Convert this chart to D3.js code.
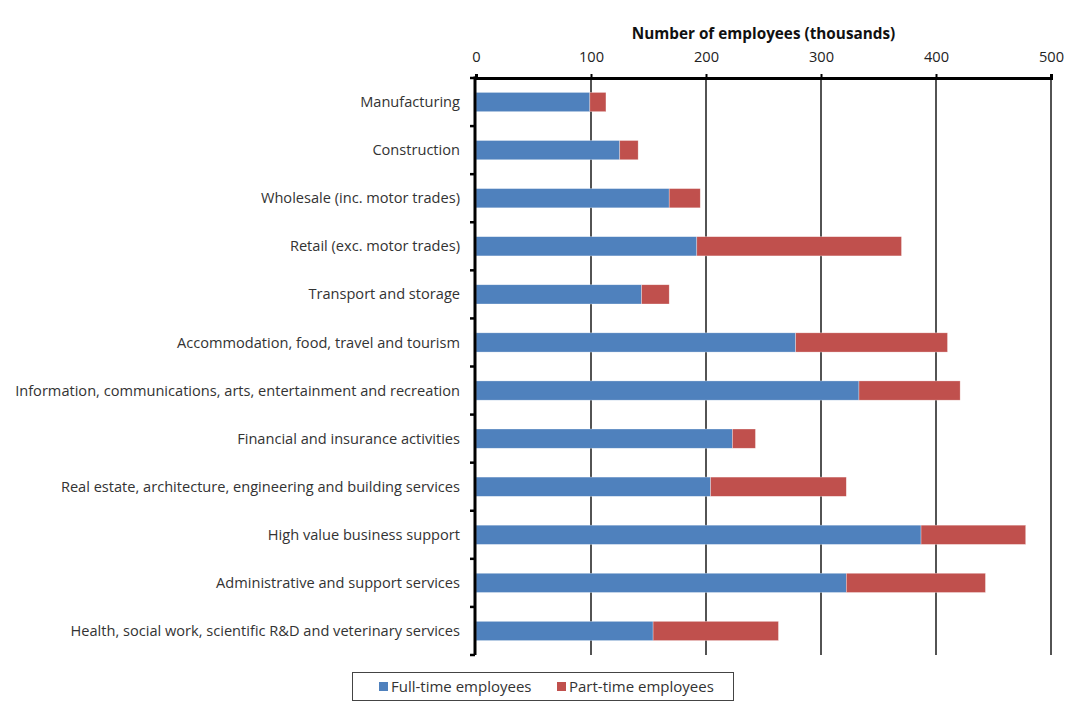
<!DOCTYPE html>
<html>
<head>
<meta charset="utf-8">
<script src="https://cdn.jsdelivr.net/npm/d3@7"></script>
<style>
  body { margin: 0; background: #fff; }
  svg { display: block; }
  text { font-family: "Open Sans", "Noto Sans", sans-serif; }
</style>
</head>
<body>
<svg id="chart" width="1072" height="708"></svg>
<script>
const categories = [
  "Manufacturing",
  "Construction",
  "Wholesale (inc. motor trades)",
  "Retail (exc. motor trades)",
  "Transport and storage",
  "Accommodation, food, travel and tourism",
  "Information, communications, arts, entertainment and recreation",
  "Financial and insurance activities",
  "Real estate, architecture, engineering and building services",
  "High value business support",
  "Administrative and support services",
  "Health, social work, scientific R&D and veterinary services"
];
const fullTime = [99, 125, 168, 192, 144, 278, 333, 223, 204, 387, 322, 154];
const partTime = [14, 16, 27, 178, 24, 132, 88, 20, 118, 91, 121, 109];
const seriesNames = ["Full-time employees", "Part-time employees"];
const seriesColors = ["#4f81bd", "#c0504d"];
const xTicks = [0, 100, 200, 300, 400, 500];
const axisTitle = "Number of employees (thousands)";

const svg = d3.select("#chart");
const margin = { left: 476, right: 21, top: 78, bottom: 53 };
const W = 1072, H = 708;
const FS = 14.6;

const x = d3.scaleLinear().domain([0, 500]).range([margin.left, W - margin.right]);
const y = d3.scaleBand().domain(categories).range([margin.top, H - margin.bottom]).paddingInner(0.6).paddingOuter(0.3);
const yEdge = d3.scaleBand().domain(categories).range([margin.top, H - margin.bottom]);

const data = categories.map((c, i) => ({ cat: c, values: [fullTime[i], partTime[i]] }));
const stack = d3.stack().keys([0, 1]).value((d, k) => d.values[k]);
const series = stack(data);

// gridlines
svg.append("g").selectAll("line").data(xTicks.slice(1)).join("line")
  .attr("x1", d => x(d)).attr("x2", d => x(d))
  .attr("y1", margin.top).attr("y2", H - margin.bottom)
  .attr("stroke", "#1a1a1a").attr("stroke-width", 1.5);

// bars
svg.append("g").selectAll("g").data(series).join("g")
  .attr("fill", (d, i) => seriesColors[i])
  .selectAll("rect").data(d => d).join("rect")
  .attr("x", d => x(d[0]))
  .attr("width", d => x(d[1]) - x(d[0]))
  .attr("y", d => y(d.data.cat))
  .attr("height", y.bandwidth())
  .attr("stroke", "rgba(255,255,255,0.5)").attr("stroke-width", 0.6);

// top axis
const xAxis = d3.axisTop(x).tickValues(xTicks).tickSize(4).tickPadding(6);
const gx = svg.append("g").attr("transform", `translate(0,${margin.top})`).call(xAxis);
gx.select(".domain").attr("stroke", "#000").attr("stroke-width", 3);
gx.selectAll(".tick line").attr("stroke", "#000").attr("stroke-width", 2);
gx.selectAll(".tick text").attr("font-size", FS).attr("fill", "#222").attr("dy", "-0.4em")
  .attr("font-family", "'Open Sans', sans-serif");

svg.append("text")
  .attr("x", (x(0) + x(500)) / 2 + 0).attr("y", 39)
  .attr("text-anchor", "middle").attr("font-size", 15.3).attr("font-weight", "bold").attr("fill", "#111")
  .text(axisTitle);

// left axis
const gy = svg.append("g").attr("transform", `translate(${margin.left - 1},0)`);
gy.append("line").attr("x1", 0).attr("x2", 0).attr("y1", margin.top - 1.5).attr("y2", H - margin.bottom)
  .attr("stroke", "#000").attr("stroke-width", 3);
const edges = categories.map(c => yEdge(c)).concat([H - margin.bottom]);
gy.selectAll("line.tk").data(edges).join("line").attr("class", "tk")
  .attr("x1", -5).attr("x2", 0).attr("y1", d => d).attr("y2", d => d)
  .attr("stroke", "#000").attr("stroke-width", 2.5);
gy.selectAll("text").data(categories).join("text")
  .attr("x", -15).attr("y", d => y(d) + y.bandwidth() / 2)
  .attr("dy", "0.35em").attr("text-anchor", "end").attr("font-size", FS).attr("fill", "#333")
  .text(d => d);

// legend
const lg = svg.append("g");
lg.append("rect").attr("x", 352.5).attr("y", 672.5).attr("width", 381).attr("height", 28)
  .attr("fill", "#fff").attr("stroke", "#444").attr("stroke-width", 1);
const legX = [379, 557];
seriesNames.forEach((n, i) => {
  lg.append("rect").attr("x", legX[i]).attr("y", 682).attr("width", 9).attr("height", 9).attr("fill", seriesColors[i]);
  lg.append("text").attr("x", legX[i] + 12).attr("y", 687).attr("dy", "0.35em")
    .attr("font-size", 15).attr("fill", "#333").text(n);
});
</script>
</body>
</html>
